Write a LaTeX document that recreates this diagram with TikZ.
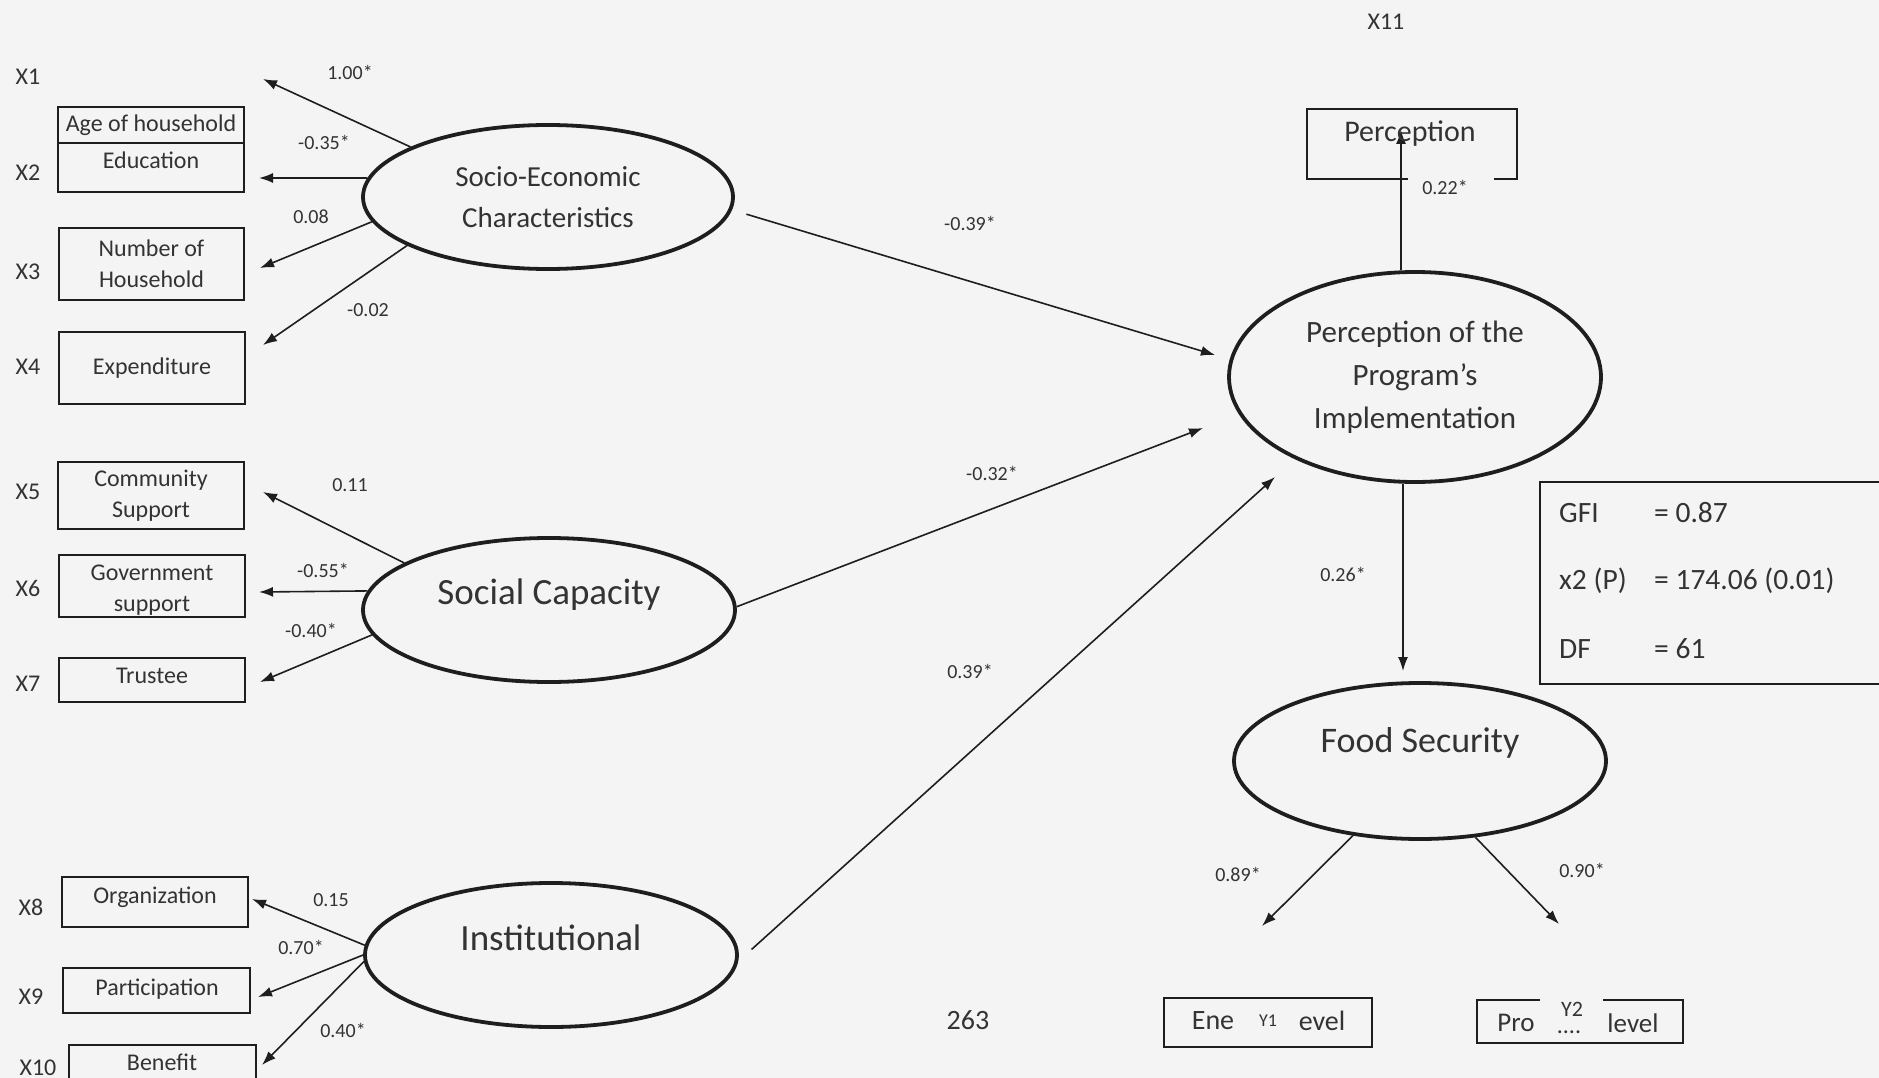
\documentclass[tikz,border=0pt]{standalone}
\usepackage{fontspec}
\setmainfont{Carlito}
\usetikzlibrary{arrows.meta,shapes.geometric,calc}
\definecolor{ink}{HTML}{1E1E1E}
\definecolor{txt}{HTML}{333333}
\definecolor{paper}{HTML}{F4F4F4}
\begin{document}
\begin{tikzpicture}[x=1pt,y=-1pt,
  every node/.style={text=txt, inner sep=0pt},
  lat/.style={draw=ink, ellipse, line width=3.8pt, inner sep=0pt},
  obs/.style={draw=ink, rectangle, line width=1.4pt, inner sep=0pt, align=center, font=\fontsize{24}{31}\selectfont},
  boxt/.style={font=\fontsize{24}{31}\selectfont},
  vlab/.style={font=\fontsize{24}{28}\selectfont},
  coef/.style={font=\fontsize{20}{24}\selectfont},
  fit/.style={font=\fontsize{29.5}{33}\selectfont, anchor=west},
  frame/.style={draw=ink, line width=1.4pt},
  arr/.style={draw=ink, line width=1.6pt, -{Latex[length=14pt,width=10pt]}},
  bigt/.style={font=\fontsize{37}{44}\selectfont},
]
\useasboundingbox[fill=paper] (0,0) rectangle (1879,1078);

% ---------- latent variables ----------
\node[lat, minimum width=370pt, minimum height=144pt, align=center, font=\fontsize{29}{41}\selectfont] (soc) at (548,197) {Socio-Economic\\Characteristics};
\node[lat, minimum width=372pt, minimum height=144pt] (scap) at (549,610) {};
\node[bigt] (scapT) at (549,595) {Social Capacity};
\node[lat, minimum width=372pt, minimum height=144pt] (inst) at (551,955) {};
\node[bigt] (instT) at (551,938) {Institutional};
\node[lat, minimum width=372pt, minimum height=210pt, align=center, font=\fontsize{31}{43}\selectfont] (ppi) at (1415,377) {Perception of the\\Program’s\\Implementation};
\node[lat, minimum width=372pt, minimum height=156pt] (food) at (1420,761) {};
\node[font=\fontsize{36}{40}\selectfont] (foodT) at (1420,743) {Food Security};

% ---------- observed variables (left) ----------
\node[obs, minimum width=186pt, minimum height=85pt] (b1) at (151,149.5) {};
\node[boxt] (b1a) at (151,125) {Age of household};
\node[boxt] (b1b) at (151,160) {Education};
\coordinate (d1) at (0,143);
\draw[frame] (b1.west |- d1) -- (b1.east |- d1);

\node[obs, minimum width=185pt, minimum height=72pt] (b3) at (151.5,264) {Number of\\Household};
\node[obs, minimum width=186pt, minimum height=72pt] (b4) at (152,368) {Expenditure};
\node[obs, minimum width=186pt, minimum height=67pt] (b5) at (151,495.5) {Community\\Support};
\node[obs, minimum width=186pt, minimum height=62pt] (b6) at (152,586) {};
\node[boxt] (b6a) at (152,573) {Government};
\node[boxt] (b6b) at (152,606) {support};
\node[obs, minimum width=186pt, minimum height=44pt] (b7) at (152,680) {};
\node[boxt] (b7t) at (152,676) {Trustee};
\node[obs, minimum width=186pt, minimum height=50pt] (b8) at (155,902) {};
\node[boxt] (b8t) at (155,897) {Organization};
\node[obs, minimum width=187pt, minimum height=45pt] (b9) at (156.5,990.5) {};
\node[boxt] (b9t) at (157,989) {Participation};
\draw[frame] (69,1080) -- (69,1045) -- (256,1045) -- (256,1080);
\node[boxt] (b10t) at (162,1062) {Benefit};

% ---------- variable labels ----------
\node[vlab] (x1) at (28,77) {X1};
\node[vlab] (x2) at (28,173) {X2};
\node[vlab] (x3) at (28,272) {X3};
\node[vlab] (x4) at (28,367) {X4};
\node[vlab] (x5) at (28,492) {X5};
\node[vlab] (x6) at (28,588) {X6};
\node[vlab] (x7) at (28,684) {X7};
\node[vlab] (x8) at (31,907) {X8};
\node[vlab] (x9) at (31,997) {X9};
\node[vlab] (x10) at (38,1068) {X10};
\node[vlab] (x11) at (1386,22) {X11};

% ---------- arrow tips ----------
\coordinate (t1) at (263,79);
\coordinate (t2) at (259,178);
\coordinate (t3) at (260,268);
\coordinate (t4) at (263,345);
\coordinate (t5) at (263,492);
\coordinate (t6) at (259,592);
\coordinate (t7) at (260,682);
\coordinate (t8) at (252,899);
\coordinate (t9) at (258,997);
\coordinate (t10) at (262,1065);
\coordinate (ta) at (1215,355);
\coordinate (tb) at (1203,428);
\coordinate (tc) at (1275,477);
\coordinate (tp) at (1401,130);
\coordinate (tf) at (1403,671);
\coordinate (ty1) at (1262,926);
\coordinate (ty2) at (1559,924);

% ---------- loadings ----------
\draw[arr] (soc.160) -- (t1);
\draw[arr] (soc.174) -- (t2);
\draw[arr] (soc.188) -- (t3);
\draw[arr] (soc.199) -- (t4);
\draw[arr] (scap.162) -- (t5);
\draw[arr] (scap.174) -- (t6);
\draw[arr] (scap.188) -- (t7);
\draw[arr] (inst.177) -- (t8);
\draw[arr] (inst.180) -- (t9);
\draw[arr] (inst.182) -- (t10);

% ---------- structural paths ----------
\draw[arr, shorten <=15pt] (soc.-4) -- (ta);
\draw[arr] (scap.1) -- (tb);
\draw[arr, shorten <=18pt] (inst.-2) -- (tc);
\draw[arr] (ppi.north -| tp) -- (tp);
\draw[arr] (ppi.south -| tf) -- (tf);
\draw[arr] (food.228) -- (ty1);
\draw[arr] (food.306) -- (ty2);

% ---------- coefficients ----------
\node[coef] (c1) at (350,72) {1.00*};
\node[coef] (c2) at (324,142) {-0.35*};
\node[coef] (c3) at (311,217) {0.08};
\node[coef] (c4) at (368,310) {-0.02};
\node[coef] (c5) at (350,485) {0.11};
\node[coef] (c6) at (323,570) {-0.55*};
\node[coef] (c7) at (311,630) {-0.40*};
\node[coef] (c8) at (331,900) {0.15};
\node[coef] (c9) at (301,947) {0.70*};
\node[coef] (c10) at (343,1030) {0.40*};
\node[coef] (ca) at (970,223) {-0.39*};
\node[coef] (cb) at (992,473) {-0.32*};
\node[coef] (cc) at (970,671) {0.39*};
\node[coef] (cp) at (1445,187) {0.22*};
\node[coef] (cf) at (1343,574) {0.26*};
\node[coef] (cy1) at (1238,874) {0.89*};
\node[coef] (cy2) at (1582,870) {0.90*};

% ---------- Perception box (X11) ----------
\draw[frame] (1408,179) -- (1307,179) -- (1307,109) -- (1517,109) -- (1517,179) -- (1494,179);
\node[font=\fontsize{30}{34}\selectfont] (perc) at (1410,134) {Perception};

% ---------- fit statistics ----------
\draw[frame] (1880,482) -- (1540,482) -- (1540,684) -- (1880,684);
\node[fit] (gfi) at (1559,513) {GFI};
\node[fit] (gfiv) at (1654,513) {= 0.87};
\node[fit] (chi) at (1559,581) {x2 (P)};
\node[fit] (chiv) at (1654,581) {= 174.06 (0.01)};
\node[fit] (df) at (1559,649) {DF};
\node[fit] (dfv) at (1654,649) {= 61};

% ---------- Y indicators ----------
\node[obs, minimum width=208pt, minimum height=49pt] (y1b) at (1268,1022.5) {};
\node[font=\fontsize{28}{32}\selectfont] (y1a) at (1213,1021) {Ene};
\node[font=\fontsize{18}{22}\selectfont] (y1l) at (1268,1021) {Y1};
\node[font=\fontsize{28}{32}\selectfont] (y1c) at (1322,1021) {evel};
\draw[frame] (1540,1000) -- (1477,1000) -- (1477,1043) -- (1683,1043) -- (1683,1000) -- (1603,1000);
\node[font=\fontsize{27}{32}\selectfont] (y2a) at (1516,1023) {Pro};
\node[font=\fontsize{22}{26}\selectfont] (y2l) at (1572,1009) {Y2};
\node[font=\fontsize{24}{28}\selectfont, anchor=base] (y2d) at (1569,1033) {....};
\node[font=\fontsize{27}{32}\selectfont] (y2c) at (1633,1023) {level};

% ---------- page number ----------
\node[font=\fontsize{28}{32}\selectfont] (pg) at (968,1020) {263};
\end{tikzpicture}
\end{document}
